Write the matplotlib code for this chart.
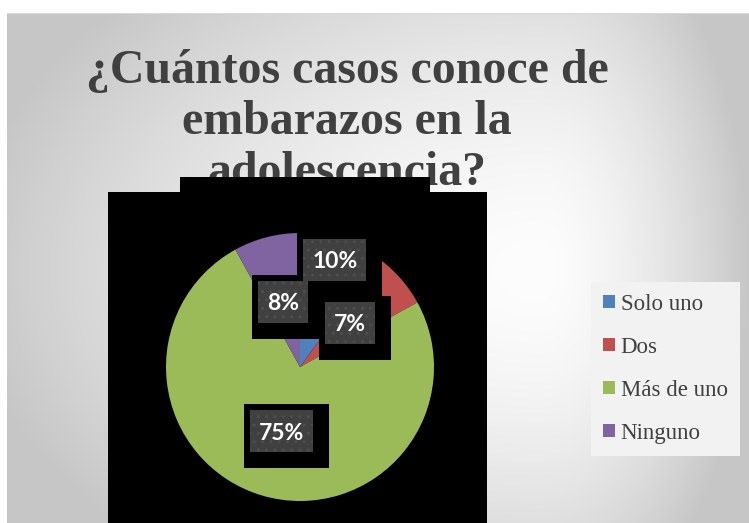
import numpy as np
import matplotlib
matplotlib.use("Agg")
import matplotlib.pyplot as plt
import matplotlib.transforms as mtransforms
from matplotlib.patches import Rectangle, Patch

# Survey answers
categories = ["Solo uno", "Dos", "Más de uno", "Ninguno"]
values = [10, 7, 75, 8]
colors = ["#4f81bd", "#c0504d", "#9bbb59", "#8064a2"]
title = "¿Cuántos casos conoce de\nembarazos en la\nadolescencia?"

W, H = 749, 523
fig = plt.figure(figsize=(W / 100, H / 100), dpi=100)


def fx(px):
    return px / W


def fy(py):
    return 1 - py / H


# Background: soft radial grey gradient inside the chart frame
bg = fig.add_axes([0, 0, 1, 1], zorder=0)
bg.set_axis_off()
yy, xx = np.mgrid[0:H, 0:W].astype(float)
cx, cy = 540.0, 270.0
dx = np.where(xx < cx, (xx - cx) / (cx + 40), (xx - cx) / (W - cx))
dy = np.where(yy < cy, (yy - cy) / (cy + 120), (yy - cy) / (H - cy + 120))
r = np.sqrt(dx ** 2 + dy ** 2)
v = 253 - 55 * np.clip(r, 0, 1) ** 1.6
img = np.repeat(v[:, :, None], 3, axis=2) / 255.0
img[:13, :, :] = 1.0
img[:, :7, :] = 1.0
img[13, 7:, :] = 0.85
bg.imshow(img, extent=[0, W, H, 0], aspect="auto", interpolation="bilinear")
bg.set_xlim(0, W)
bg.set_ylim(H, 0)

# Plot-area backgrounds (pixel coordinates of the background axes)
bg.add_patch(Rectangle((108, 192), 487 - 108, H - 192, facecolor="black",
                       edgecolor="none", zorder=3))

# Title
bg.text(347, 122, title, ha="center", va="center",
        fontsize=34.5, fontweight="bold", family="Liberation Serif",
        color="#404040", linespacing=1.2, zorder=4)
bg.add_patch(Rectangle((180, 177), 430 - 180, 192 - 177, facecolor="black",
                       edgecolor="none", zorder=5))

# Pie
R = 134
pcx, pcy = 300, 367
ax = fig.add_axes([fx(pcx - R), fy(pcy + R), 2 * R / W, 2 * R / H], zorder=2)
ax.set_axis_off()
wedges, _ = ax.pie(values, colors=colors, startangle=90, counterclock=False,
                   radius=1, wedgeprops=dict(linewidth=0))
ax.set_xlim(-1, 1)
ax.set_ylim(-1, 1)

# Data labels along each wedge bisector
label_radius = [0.84, 0.5, 0.5, 0.5]
label_size = 16.5
cap_px = 0.72 * label_size * 100 / 72
total = sum(values)
labels = []
start = 90.0
for val, rr in zip(values, label_radius):
    span = 360.0 * val / total
    mid = np.deg2rad(start - span / 2)
    start -= span
    x, y = rr * np.cos(mid), rr * np.sin(mid)
    tr = mtransforms.offset_copy(ax.transData, fig=fig, x=0,
                                 y=-cap_px / 2, units="dots")
    t = ax.text(x, y, f"{val}%", transform=tr, ha="center", va="baseline",
                fontsize=label_size, fontweight="bold", family="Lato",
                color="white", zorder=7)
    labels.append((t, x, y))

fig.canvas.draw()
renderer = fig.canvas.get_renderer()
inv = ax.transData.inverted()
for t, x, y in labels:
    w = t.get_window_extent(renderer).width
    px, py = ax.transData.transform((x, y))
    bw, bh = w + 18, 42
    ix0, iy0, ix1, iy1 = px - bw / 2, py - bh / 2, px + bw / 2, py + bh / 2
    # dark label box
    (a0, b0), (a1, b1) = inv.transform([(ix0, iy0), (ix1, iy1)])
    ax.add_patch(Rectangle((a0, b0), a1 - a0, b1 - b0, facecolor="#404040",
                           edgecolor="#4e4e4e", hatch="..", linewidth=0,
                           zorder=6, clip_on=False))
    # black backing around it
    (a0, b0), (a1, b1) = inv.transform([(ix0 - 6, iy0 - 16), (ix1 + 16, iy1 + 6)])
    ax.add_patch(Rectangle((a0, b0), a1 - a0, b1 - b0, facecolor="black",
                           edgecolor="none", zorder=5, clip_on=False))

# Legend
handles = [Patch(facecolor=c, edgecolor="none") for c in colors]
leg = fig.legend(handles, categories, loc="upper left",
                 bbox_to_anchor=(fx(591), fy(282)), frameon=True,
                 prop=dict(family="Liberation Serif", size=16.5),
                 handlelength=0.52, handleheight=0.52, handletextpad=0.26,
                 labelspacing=0.96, borderpad=0.52, borderaxespad=0,
                 fancybox=False)
leg.get_frame().set_facecolor("#f2f2f2")
leg.get_frame().set_edgecolor("none")
leg.get_frame().set_alpha(1)
for txt in leg.get_texts():
    txt.set_color("#404040")

fig.savefig("out.png", dpi=100)
